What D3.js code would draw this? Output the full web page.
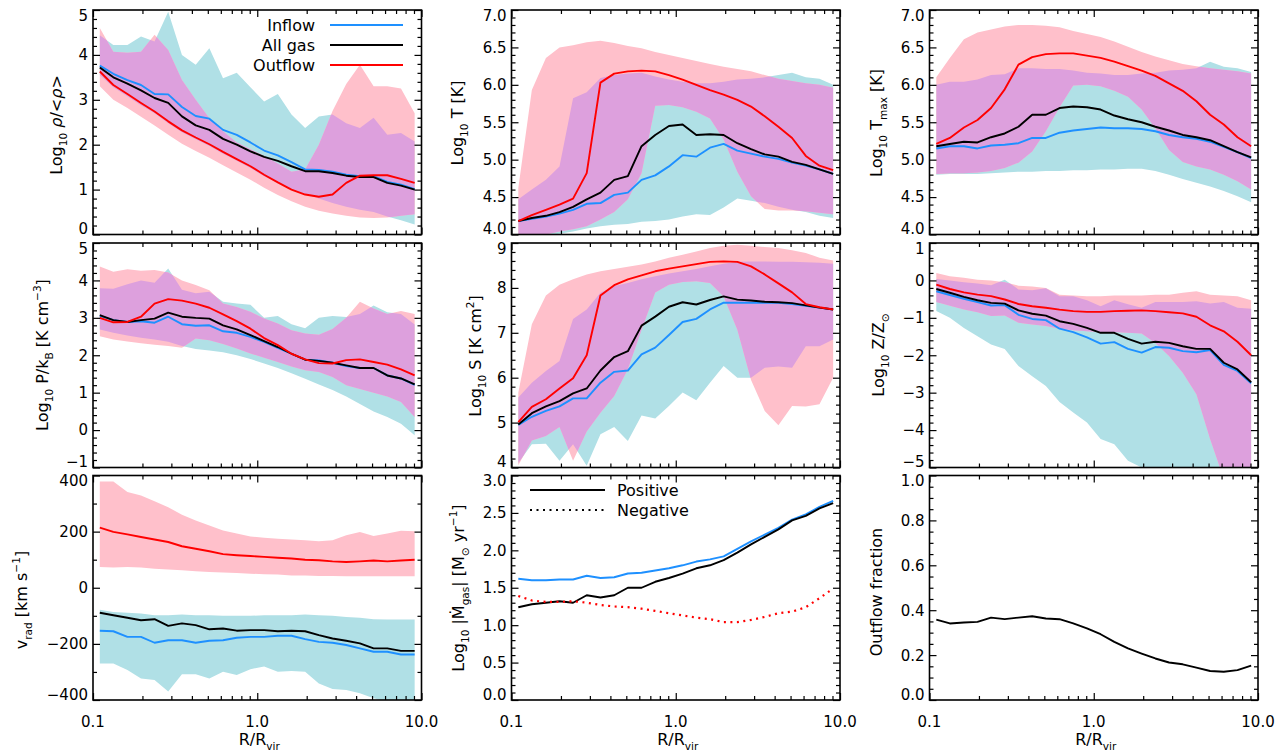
<!DOCTYPE html>
<html><head><meta charset="utf-8">
<script src="https://cdn.jsdelivr.net/npm/d3@7"></script>
<style>
body{margin:0;background:#fff}
text{font-family:"DejaVu Sans",sans-serif;fill:#000}
</style>
</head><body>
<svg id="c" width="1280" height="752"></svg>
<script>
// ---------- radial bins (R / Rvir) ----------
const R = [0.110, 0.133, 0.162, 0.196, 0.237, 0.287, 0.348, 0.422, 0.511, 0.619, 0.750, 0.909,
           1.101, 1.334, 1.616, 1.957, 2.371, 2.873, 3.481, 4.217, 5.109, 6.190, 7.499, 9.085];
const xTickLabels = ["0.1", "1.0", "10.0"];
const xMajor = [0.1, 1, 10];
const xMinor = [0.2,0.3,0.4,0.5,0.6,0.7,0.8,0.9,2,3,4,5,6,7,8,9];

// ---------- density ----------
const rhoIn  = [3.76,3.58,3.44,3.33,3.13,3.12,2.84,2.64,2.58,2.33,2.22,2.05,1.87,1.76,1.61,1.45,1.44,1.40,1.33,1.30,1.30,1.17,1.11,1.01];
const rhoAll = [3.72,3.50,3.36,3.21,3.04,2.93,2.63,2.43,2.33,2.13,2.00,1.85,1.73,1.64,1.52,1.41,1.41,1.37,1.31,1.28,1.28,1.15,1.09,1.00];
const rhoOut = [3.63,3.33,3.13,2.93,2.74,2.52,2.32,2.16,2.01,1.84,1.68,1.52,1.33,1.16,1.00,0.89,0.84,0.89,1.15,1.31,1.32,1.32,1.24,1.15];
const rhoInHi  = [4.44,4.22,4.22,4.41,4.30,4.96,4.00,3.78,4.15,3.48,3.60,3.28,2.96,3.13,2.67,2.37,2.63,2.67,2.48,2.37,2.60,2.22,2.26,2.07];
const rhoInLo  = [3.55,3.28,3.08,2.88,2.70,2.48,2.28,2.12,1.97,1.80,1.64,1.48,1.30,1.15,1.00,0.90,0.80,0.70,0.62,0.55,0.50,0.40,0.32,0.22];
const rhoOutHi = [4.60,4.07,4.05,4.07,4.45,4.11,3.44,3.00,2.59,2.30,2.05,1.90,1.75,1.58,1.40,1.45,2.00,2.75,3.35,3.78,3.30,3.30,3.25,2.70];
const rhoOutLo = [3.30,3.00,2.82,2.62,2.43,2.22,2.02,1.86,1.71,1.54,1.38,1.22,1.04,0.88,0.74,0.62,0.53,0.47,0.42,0.38,0.37,0.38,0.42,0.45];

// ---------- temperature ----------
const tIn  = [4.18,4.21,4.24,4.28,4.33,4.41,4.42,4.53,4.56,4.73,4.79,4.91,5.06,5.04,5.16,5.21,5.12,5.08,5.04,5.01,4.96,4.92,4.87,4.81];
const tAll = [4.18,4.22,4.25,4.30,4.37,4.47,4.56,4.73,4.78,5.18,5.33,5.45,5.47,5.33,5.34,5.33,5.22,5.14,5.07,5.04,4.97,4.93,4.87,4.81];
const tOut = [4.18,4.26,4.33,4.40,4.48,4.82,6.03,6.15,6.18,6.19,6.18,6.13,6.07,6.00,5.93,5.87,5.80,5.71,5.58,5.44,5.29,5.05,4.92,4.86];
const tInHi  = [4.47,4.60,4.73,4.91,5.82,5.90,6.09,6.13,6.15,6.16,6.11,6.07,6.04,6.02,6.02,6.04,6.07,6.08,6.10,6.13,6.16,6.10,6.08,6.00];
const tInLo  = [3.95,3.97,3.99,4.01,4.04,4.08,4.11,4.13,4.14,4.17,4.18,4.20,4.24,4.27,4.26,4.36,4.48,4.45,4.42,4.37,4.33,4.30,4.25,4.22];
const tOutHi = [4.62,5.93,6.36,6.50,6.53,6.57,6.59,6.56,6.52,6.49,6.44,6.40,6.36,6.32,6.28,6.24,6.21,6.18,6.13,6.08,6.05,6.02,6.00,5.96];
const tOutLo = [4.00,3.98,4.00,4.04,4.07,4.11,4.20,4.30,4.47,4.82,5.72,5.73,5.70,5.64,5.55,5.27,4.84,4.51,4.34,4.32,4.32,4.31,4.29,4.27];

// ---------- max temperature ----------
const tmIn  = [5.15,5.18,5.18,5.15,5.19,5.20,5.22,5.29,5.29,5.36,5.39,5.41,5.43,5.42,5.42,5.41,5.38,5.33,5.30,5.28,5.24,5.17,5.10,5.02];
const tmAll = [5.18,5.21,5.24,5.23,5.30,5.35,5.44,5.60,5.60,5.69,5.71,5.70,5.67,5.59,5.54,5.50,5.44,5.39,5.33,5.30,5.26,5.18,5.10,5.03];
const tmOut = [5.21,5.29,5.43,5.53,5.69,5.94,6.27,6.37,6.41,6.42,6.42,6.39,6.36,6.31,6.25,6.19,6.12,6.02,5.92,5.78,5.60,5.47,5.30,5.18];
const tmInHi  = [6.00,6.04,6.04,6.07,6.13,6.14,6.22,6.22,6.21,6.21,6.19,6.16,6.15,6.13,6.13,6.15,6.16,6.19,6.20,6.22,6.31,6.24,6.22,6.17];
const tmInLo  = [4.80,4.81,4.81,4.81,4.82,4.83,4.84,4.84,4.85,4.85,4.86,4.86,4.87,4.87,4.88,4.88,4.85,4.80,4.74,4.69,4.64,4.58,4.51,4.43];
const tmOutHi = [6.10,6.36,6.61,6.70,6.74,6.78,6.80,6.80,6.79,6.77,6.72,6.68,6.64,6.58,6.51,6.44,6.38,6.33,6.28,6.25,6.22,6.20,6.18,6.15];
const tmOutLo = [4.81,4.82,4.82,4.83,4.85,4.89,4.96,5.11,5.38,5.70,5.99,6.00,5.98,5.92,5.84,5.67,5.42,5.13,4.97,4.91,4.87,4.80,4.71,4.60];

// ---------- pressure ----------
const pIn  = [3.05,2.94,2.89,2.91,2.87,3.03,2.83,2.79,2.80,2.64,2.60,2.49,2.36,2.20,2.04,1.88,1.86,1.80,1.71,1.66,1.66,1.46,1.38,1.21];
const pAll = [3.07,2.94,2.89,2.94,2.98,3.14,3.03,3.00,2.98,2.80,2.69,2.54,2.38,2.22,2.04,1.88,1.85,1.80,1.73,1.66,1.66,1.46,1.38,1.22];
const pOut = [3.00,2.88,2.89,3.03,3.38,3.50,3.46,3.38,3.27,3.09,2.91,2.71,2.46,2.27,2.04,1.89,1.79,1.78,1.87,1.89,1.82,1.75,1.62,1.46];
const pInHi  = [3.79,3.78,3.90,4.00,3.94,4.32,3.75,3.66,3.70,3.43,3.38,3.35,3.00,3.05,2.83,2.72,3.00,3.05,3.02,3.10,3.33,3.15,3.10,2.82];
const pInLo  = [2.69,2.60,2.53,2.47,2.42,2.36,2.25,2.17,2.13,2.08,2.00,1.90,1.78,1.66,1.52,1.37,1.22,1.07,0.90,0.70,0.50,0.35,0.17,-0.14];
const pOutHi = [4.37,4.23,4.30,4.26,4.28,4.21,4.00,3.88,3.74,3.38,3.29,3.16,2.98,2.85,2.67,2.58,2.55,2.70,3.00,3.43,3.25,3.10,3.18,3.10];
const pOutLo = [2.51,2.42,2.37,2.32,2.28,2.25,2.20,2.45,2.40,2.30,2.18,2.05,1.93,1.82,1.70,1.60,1.55,1.42,1.20,1.10,1.00,0.90,0.75,0.35];

// ---------- entropy ----------
const sIn  = [4.95,5.13,5.26,5.36,5.54,5.54,5.89,6.13,6.16,6.52,6.67,6.95,7.24,7.31,7.52,7.67,7.67,7.67,7.67,7.67,7.64,7.60,7.56,7.52];
const sAll = [4.96,5.21,5.36,5.48,5.65,5.76,6.16,6.46,6.59,7.16,7.36,7.58,7.68,7.63,7.73,7.81,7.74,7.72,7.69,7.68,7.66,7.61,7.56,7.52];
const sOut = [5.01,5.35,5.52,5.76,5.99,6.50,7.83,8.06,8.19,8.28,8.37,8.43,8.48,8.53,8.58,8.59,8.58,8.48,8.30,8.10,7.90,7.64,7.57,7.52];
const sInHi  = [5.56,5.89,6.15,6.37,7.31,7.52,7.89,8.04,8.11,8.19,8.26,8.32,8.37,8.42,8.48,8.54,8.58,8.59,8.59,8.58,8.58,8.57,8.56,8.54];
const sInLo  = [4.10,4.52,4.53,4.15,4.52,4.04,4.74,4.90,4.59,5.16,5.09,5.37,5.67,5.50,5.89,6.26,6.00,6.00,6.22,6.25,6.22,6.70,6.70,6.85];
const sOutHi = [5.67,7.19,7.83,8.07,8.19,8.30,8.37,8.42,8.47,8.52,8.59,8.67,8.74,8.81,8.89,8.94,8.96,8.94,8.91,8.89,8.84,8.78,8.67,8.61];
const sOutLo = [4.05,4.60,4.70,4.90,4.15,4.80,5.22,5.59,6.19,7.07,7.90,8.07,8.13,8.15,8.11,7.81,7.07,5.95,5.26,4.94,5.37,5.36,5.41,6.00];

// ---------- metallicity ----------
const zIn  = [-0.29,-0.39,-0.49,-0.58,-0.67,-0.66,-0.92,-1.03,-1.06,-1.29,-1.38,-1.52,-1.69,-1.65,-1.83,-1.93,-1.78,-1.80,-1.89,-1.92,-1.86,-2.26,-2.42,-2.75];
const zAll = [-0.23,-0.33,-0.44,-0.53,-0.60,-0.62,-0.80,-0.89,-0.94,-1.09,-1.16,-1.27,-1.40,-1.40,-1.56,-1.69,-1.64,-1.67,-1.76,-1.83,-1.83,-2.20,-2.38,-2.72];
const zOut = [-0.11,-0.23,-0.32,-0.38,-0.42,-0.51,-0.63,-0.69,-0.73,-0.78,-0.82,-0.84,-0.84,-0.82,-0.81,-0.80,-0.82,-0.85,-0.88,-0.97,-1.20,-1.36,-1.64,-2.00];
const zInHi  = [0.04,0.00,-0.05,-0.08,-0.13,0.02,-0.24,-0.26,-0.21,-0.42,-0.42,-0.53,-0.69,-0.53,-0.64,-0.73,-0.58,-0.58,-0.58,-0.56,-0.62,-0.58,-0.73,-0.76];
const zInLo  = [-0.82,-1.00,-1.27,-1.49,-1.71,-1.83,-2.29,-2.56,-2.82,-3.25,-3.53,-3.80,-4.24,-4.38,-4.82,-5.00,-5.30,-5.50,-5.50,-5.50,-5.50,-5.50,-5.50,-5.50];
const zOutHi = [0.20,0.11,0.07,0.02,0.00,-0.05,-0.14,-0.16,-0.20,-0.38,-0.40,-0.42,-0.42,-0.40,-0.40,-0.40,-0.38,-0.38,-0.33,-0.29,-0.38,-0.40,-0.42,-0.53];
const zOutLo = [-0.58,-0.68,-0.78,-0.85,-0.95,-0.94,-1.13,-1.18,-1.22,-1.29,-1.33,-1.36,-1.38,-1.38,-1.40,-1.42,-1.67,-2.02,-2.47,-3.04,-4.24,-5.30,-5.50,-5.50];

// ---------- radial velocity ----------
const vIn  = [-153,-155,-175,-175,-196,-187,-187,-196,-189,-187,-178,-175,-175,-171,-171,-183,-193,-196,-204,-216,-228,-228,-238,-238];
const vAll = [-89,-98,-107,-116,-112,-136,-127,-133,-148,-145,-153,-151,-151,-155,-153,-155,-169,-181,-189,-198,-216,-216,-225,-225];
const vOut = [214,199,190,181,172,163,148,139,130,120,116,113,110,107,104,100,98,94,92,94,97,94,97,100];
const vInHi  = [-78,-86,-89,-92,-98,-98,-95,-98,-98,-100,-100,-100,-98,-98,-98,-95,-98,-100,-104,-107,-112,-113,-113,-113];
const vInLo  = [-270,-270,-293,-323,-329,-370,-308,-308,-323,-299,-311,-290,-281,-299,-297,-299,-341,-361,-364,-376,-394,-406,-418,-424];
const vOutHi = [379,379,341,329,308,287,260,240,222,204,193,183,178,175,172,169,166,169,187,199,184,193,203,201];
const vOutLo = [74,72,74,72,68,65,62,59,56,54,53,50,48,47,44,44,42,42,41,41,41,41,41,41];

// ---------- mass flow rate ----------
const mdotBlue = [1.62,1.60,1.60,1.61,1.61,1.66,1.63,1.64,1.69,1.70,1.73,1.76,1.80,1.85,1.88,1.92,2.02,2.12,2.21,2.30,2.41,2.48,2.58,2.66];
const mdotPos  = [1.24,1.28,1.30,1.32,1.30,1.40,1.37,1.40,1.50,1.50,1.58,1.63,1.69,1.76,1.80,1.87,1.97,2.08,2.18,2.28,2.40,2.46,2.56,2.63];
const mdotNeg  = [1.39,1.33,1.31,1.31,1.32,1.30,1.27,1.25,1.24,1.22,1.19,1.16,1.13,1.10,1.08,1.04,1.04,1.07,1.11,1.16,1.18,1.24,1.36,1.49];

// ---------- outflow fraction ----------
const outFrac = [0.358,0.341,0.345,0.348,0.367,0.360,0.367,0.373,0.363,0.360,0.341,0.319,0.293,0.259,0.230,0.207,0.185,0.167,0.159,0.144,0.129,0.126,0.133,0.153];

// ---------- legend labels ----------
const legend1 = ["Inflow", "All gas", "Outflow"];
const legend2 = ["Positive", "Negative"];

// ================= drawing =================
const CYAN = "#b0e0e6", PINK = "#ffc0cb", PLUM = "#dda0dd", BLUE = "#1e90ff", RED = "#ff0000", BLACK = "#000";
const colX = [93, 511.5, 929.5];
const rowY = [10, 243, 475.5];
const PW = 328.5, PH = 224.5;
const svg = d3.select("#c");
const defs = svg.append("defs");

function rich(sel, segs, size) {
  let shift = 0;
  segs.forEach(([t, k]) => {
    const ts = sel.append("tspan").text(t);
    let target = 0, fs = size;
    if (k === "sub") { target = size * 0.32; fs = size * 0.66; }
    if (k === "sup") { target = -size * 0.45; fs = size * 0.66; }
    if (k === "i") ts.attr("font-style", "italic");
    ts.attr("font-size", fs);
    if (target !== shift) { ts.attr("dy", target - shift); shift = target; }
  });
}

const panels = [
  {col:0,row:0,dom:[0,5],major:1,minor:0.2,dec:0,tx:62,ty:125,
   title:[["Log","n"],["10","sub"],[" ","n"],["ρ","i"],["/<","n"],["ρ","i"],[">","n"]],
   bands:[rhoInLo,rhoInHi,rhoOutLo,rhoOutHi], lines:[[rhoIn,BLUE],[rhoAll,BLACK],[rhoOut,RED]]},
  {col:1,row:0,dom:[4,7],major:0.5,minor:0.1,dec:1,tx:463,ty:123,
   title:[["Log","n"],["10","sub"],[" T [K]","n"]],
   bands:[tInLo,tInHi,tOutLo,tOutHi], lines:[[tIn,BLUE],[tAll,BLACK],[tOut,RED]]},
  {col:2,row:0,dom:[4,7],major:0.5,minor:0.1,dec:1,tx:882,ty:123,
   title:[["Log","n"],["10","sub"],[" T","n"],["max","sub"],[" [K]","n"]],
   bands:[tmInLo,tmInHi,tmOutLo,tmOutHi], lines:[[tmIn,BLUE],[tmAll,BLACK],[tmOut,RED]]},
  {col:0,row:1,dom:[-1,5],major:1,minor:0.2,dec:0,tx:48,ty:355,
   title:[["Log","n"],["10","sub"],[" P/k","n"],["B","sub"],[" [K cm","n"],["−3","sup"],["]","n"]],
   bands:[pInLo,pInHi,pOutLo,pOutHi], lines:[[pIn,BLUE],[pAll,BLACK],[pOut,RED]]},
  {col:1,row:1,dom:[4,9],major:1,minor:0.2,dec:0,tx:481,ty:356,
   title:[["Log","n"],["10","sub"],[" S [K cm","n"],["2","sup"],["]","n"]],
   bands:[sInLo,sInHi,sOutLo,sOutHi], lines:[[sIn,BLUE],[sAll,BLACK],[sOut,RED]]},
  {col:2,row:1,dom:[-5,1],major:1,minor:0.2,dec:0,tx:884,ty:355,
   title:[["Log","n"],["10","sub"],[" Z/Z","n"],["⊙","sub"]],
   bands:[zInLo,zInHi,zOutLo,zOutHi], lines:[[zIn,BLUE],[zAll,BLACK],[zOut,RED]]},
  {col:0,row:2,dom:[-400,400],major:200,minor:100,dec:0,tx:27,ty:600,
   title:[["v","n"],["rad","sub"],[" [km s","n"],["−1","sup"],["]","n"]],
   bands:[vInLo,vInHi,vOutLo,vOutHi], lines:[[vIn,BLUE],[vAll,BLACK],[vOut,RED]]},
  {col:1,row:2,dom:[0,3],major:0.5,minor:0.1,dec:1,tx:464,ty:588,
   title:[["Log","n"],["10","sub"],[" |Ṁ","n"],["gas","sub"],["| [M","n"],["⊙","sub"],[" yr","n"],["−1","sup"],["]","n"]],
   bands:null, lines:[[mdotBlue,BLUE],[mdotPos,BLACK],[mdotNeg,RED,"dot"]]},
  {col:2,row:2,dom:[0,1],major:0.2,minor:0.05,dec:1,tx:882,ty:592,
   title:[["Outflow fraction","n"]],
   bands:null, lines:[[outFrac,BLACK]]}
];

panels.forEach((p, idx) => {
  const x0 = colX[p.col], y0 = rowY[p.row];
  const x = d3.scaleLog().domain([0.1, 10]).range([x0, x0 + PW]);
  const y = d3.scaleLinear().domain(p.dom).range([y0 + PH, y0]);
  const g = svg.append("g");
  const fid = "frame" + idx;
  defs.append("clipPath").attr("id", fid).append("rect")
    .attr("x", x0).attr("y", y0).attr("width", PW).attr("height", PH);
  const plot = g.append("g").attr("clip-path", `url(#${fid})`);

  if (p.bands) {
    const [inLo, inHi, outLo, outHi] = p.bands;
    const area = (lo, hi) => d3.area().x((d, i) => x(R[i])).y0((d, i) => y(lo[i])).y1((d, i) => y(hi[i]))(R);
    const dIn = area(inLo, inHi), dOut = area(outLo, outHi);
    plot.append("path").attr("d", dIn).attr("fill", CYAN);
    plot.append("path").attr("d", dOut).attr("fill", PINK);
    const oid = "ov" + idx;
    defs.append("clipPath").attr("id", oid).append("path").attr("d", dIn);
    plot.append("g").attr("clip-path", `url(#${oid})`)
      .append("path").attr("d", dOut).attr("fill", PLUM);
  }
  p.lines.forEach(([vals, col, style]) => {
    const line = d3.line().x((d, i) => x(R[i])).y(d => y(d));
    const path = plot.append("path").attr("d", line(vals)).attr("fill", "none")
      .attr("stroke", col).attr("stroke-width", style === "dot" ? 2.2 : 1.9)
      .attr("stroke-linejoin", "round");
    if (style === "dot") path.attr("stroke-dasharray", "2 4.5");
  });

  // ticks (inward) via d3 axes
  const nMin = Math.round((p.dom[1] - p.dom[0]) / p.minor);
  const yMinor = [], yMajor = [];
  for (let i = 0; i <= nMin; i++) {
    const v = +(p.dom[0] + i * p.minor).toFixed(6);
    const r = v / p.major;
    if (Math.abs(r - Math.round(r)) < 1e-6) yMajor.push(v); else yMinor.push(v);
  }
  const tk = (axis, tx, ty) => {
    const a = g.append("g").attr("transform", `translate(${tx},${ty})`).call(axis);
    a.select(".domain").remove();
    a.selectAll("line").attr("stroke", "#000").attr("stroke-width", 1.2);
    a.selectAll("text").remove();
  };
  tk(d3.axisLeft(y).tickValues(yMajor).tickSize(-7), x0, 0);
  tk(d3.axisLeft(y).tickValues(yMinor).tickSize(-4), x0, 0);
  tk(d3.axisRight(y).tickValues(yMajor).tickSize(-7), x0 + PW, 0);
  tk(d3.axisRight(y).tickValues(yMinor).tickSize(-4), x0 + PW, 0);
  tk(d3.axisBottom(x).tickValues(xMajor).tickSize(-7), 0, y0 + PH);
  tk(d3.axisBottom(x).tickValues(xMinor).tickSize(-4), 0, y0 + PH);
  tk(d3.axisTop(x).tickValues(xMajor).tickSize(-7), 0, y0);
  tk(d3.axisTop(x).tickValues(xMinor).tickSize(-4), 0, y0);

  g.append("rect").attr("x", x0).attr("y", y0).attr("width", PW).attr("height", PH)
    .attr("fill", "none").attr("stroke", "#000").attr("stroke-width", 1.6);

  // y tick labels
  yMajor.forEach(v => {
    const yy = Math.max(y0 + 5.5, Math.min(y0 + PH - 5.5, y(v)));
    g.append("text").attr("x", x0 - 5).attr("y", yy + 5.4).attr("text-anchor", "end")
      .attr("font-size", 15).text(v.toFixed(p.dec).replace("-", "−"));
  });
  // y title
  const t = g.append("text").attr("transform", `translate(${p.tx},${p.ty}) rotate(-90)`)
    .attr("text-anchor", "middle").attr("font-size", 16);
  rich(t, p.title, 16);

  // x tick labels on bottom row
  if (p.row === 2) {
    xMajor.forEach((v, i) => {
      g.append("text").attr("x", x(v)).attr("y", 727).attr("text-anchor", "middle")
        .attr("font-size", 15).text(xTickLabels[i]);
    });
    const xt = g.append("text").attr("x", x0 + PW / 2 + 2).attr("y", 745)
      .attr("text-anchor", "middle").attr("font-size", 16);
    rich(xt, [["R/R", "n"], ["vir", "sub"]], 16);
  }
});

// legend panel 1
const legCols = [BLUE, BLACK, RED];
legend1.forEach((lab, i) => {
  const yy = 25 + i * 20;
  svg.append("text").attr("x", 315).attr("y", yy + 5.5).attr("text-anchor", "end")
    .attr("font-size", 16).text(lab);
  svg.append("line").attr("x1", 330).attr("x2", 403).attr("y1", yy).attr("y2", yy)
    .attr("stroke", legCols[i]).attr("stroke-width", 2);
});
// legend mdot panel
legend2.forEach((lab, i) => {
  const yy = 490 + i * 20;
  svg.append("text").attr("x", 617).attr("y", yy + 5.5).attr("font-size", 16).text(lab);
  const l = svg.append("line").attr("x1", 530).attr("x2", 605).attr("y1", yy).attr("y2", yy)
    .attr("stroke", BLACK).attr("stroke-width", i ? 2.2 : 2);
  if (i) l.attr("stroke-dasharray", "2 4.5");
});
</script>
</body></html>
